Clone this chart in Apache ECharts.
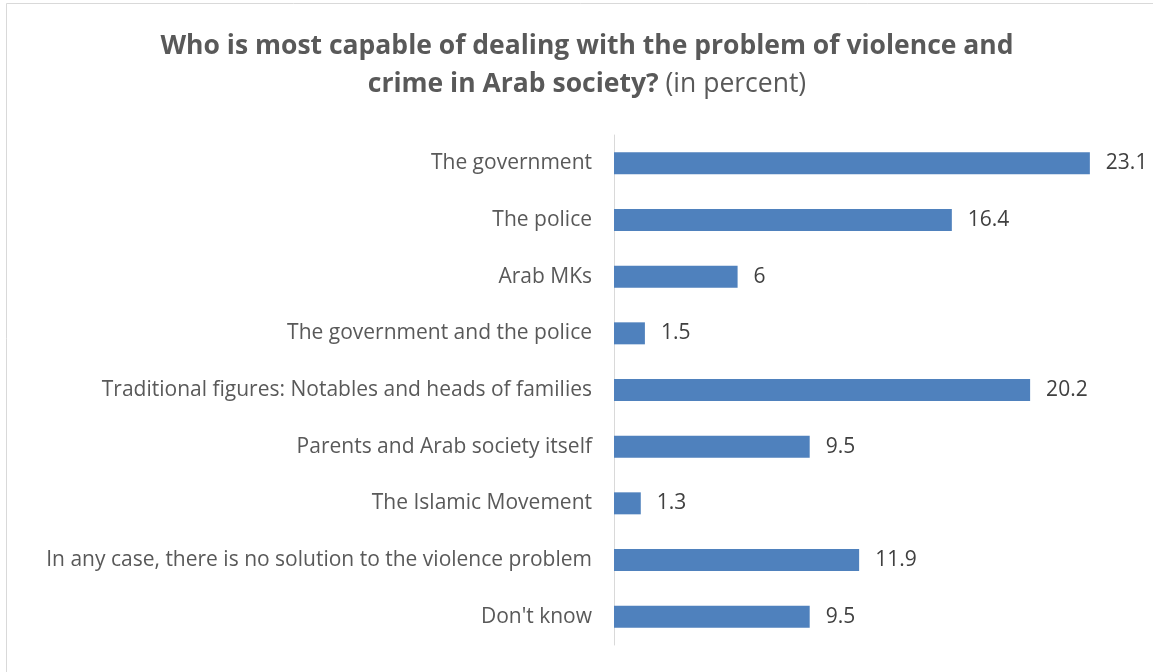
<!DOCTYPE html>
<html>
<head>
<meta charset="utf-8">
<script src="https://cdn.jsdelivr.net/npm/echarts@6/dist/echarts.min.js"></script>
<style>
html,body{margin:0;padding:0;background:#fff;}
#chart{width:1153px;height:672px;}
</style>
</head>
<body>
<div id="chart"></div>
<script>
const categories = [
  "The government",
  "The police",
  "Arab MKs",
  "The government and the police",
  "Traditional figures: Notables and heads of families",
  "Parents and Arab society itself",
  "The Islamic Movement",
  "In any case, there is no solution to the violence problem",
  "Don't know"
];
const values = [23.1, 16.4, 6, 1.5, 20.2, 9.5, 1.3, 11.9, 9.5];
const titleLine1 = "Who is most capable of dealing with the problem of violence and";
const titleLine2Bold = "crime in Arab society?";
const titleLine2Normal = " (in percent)";

const chart = echarts.init(document.getElementById('chart'));
const FONT = "'Open Sans', sans-serif";
chart.setOption({
  animation: false,
  backgroundColor: '#fff',
  graphic: [{
    type: 'rect',
    shape: {x: 6.5, y: 3.5, width: 1200, height: 700},
    style: {fill: 'none', stroke: '#d9d9d9', lineWidth: 1},
    silent: true
  }],
  title: {
    left: 582,
    top: 22,
    textAlign: 'center',
    text: '{b|' + titleLine1 + '}\n{b|' + titleLine2Bold + '}{n|' + titleLine2Normal + '}',
    textStyle: {
      rich: {
        b: {fontFamily: FONT, fontWeight: 'bold', fontSize: 26.5, color: '#595959', lineHeight: 38},
        n: {fontFamily: FONT, fontWeight: 'normal', fontSize: 26.5, color: '#595959', lineHeight: 38}
      }
    }
  },
  grid: {left: 614, right: 24, top: 135, bottom: 27, containLabel: false},
  xAxis: {
    type: 'value', min: 0, max: 25, show: false
  },
  yAxis: {
    type: 'category',
    data: categories,
    inverse: true,
    axisLine: {show: true, lineStyle: {color: '#d9d9d9', width: 1}},
    axisTick: {show: false},
    axisLabel: {color: '#595959', fontSize: 21, fontFamily: FONT, margin: 22}
  },
  series: [{
    type: 'bar',
    data: values,
    barWidth: 22,
    itemStyle: {color: '#4f81bd'},
    label: {
      show: true, position: 'right', distance: 16,
      color: '#404040', fontSize: 21, fontFamily: FONT
    }
  }]
});
</script>
</body>
</html>
